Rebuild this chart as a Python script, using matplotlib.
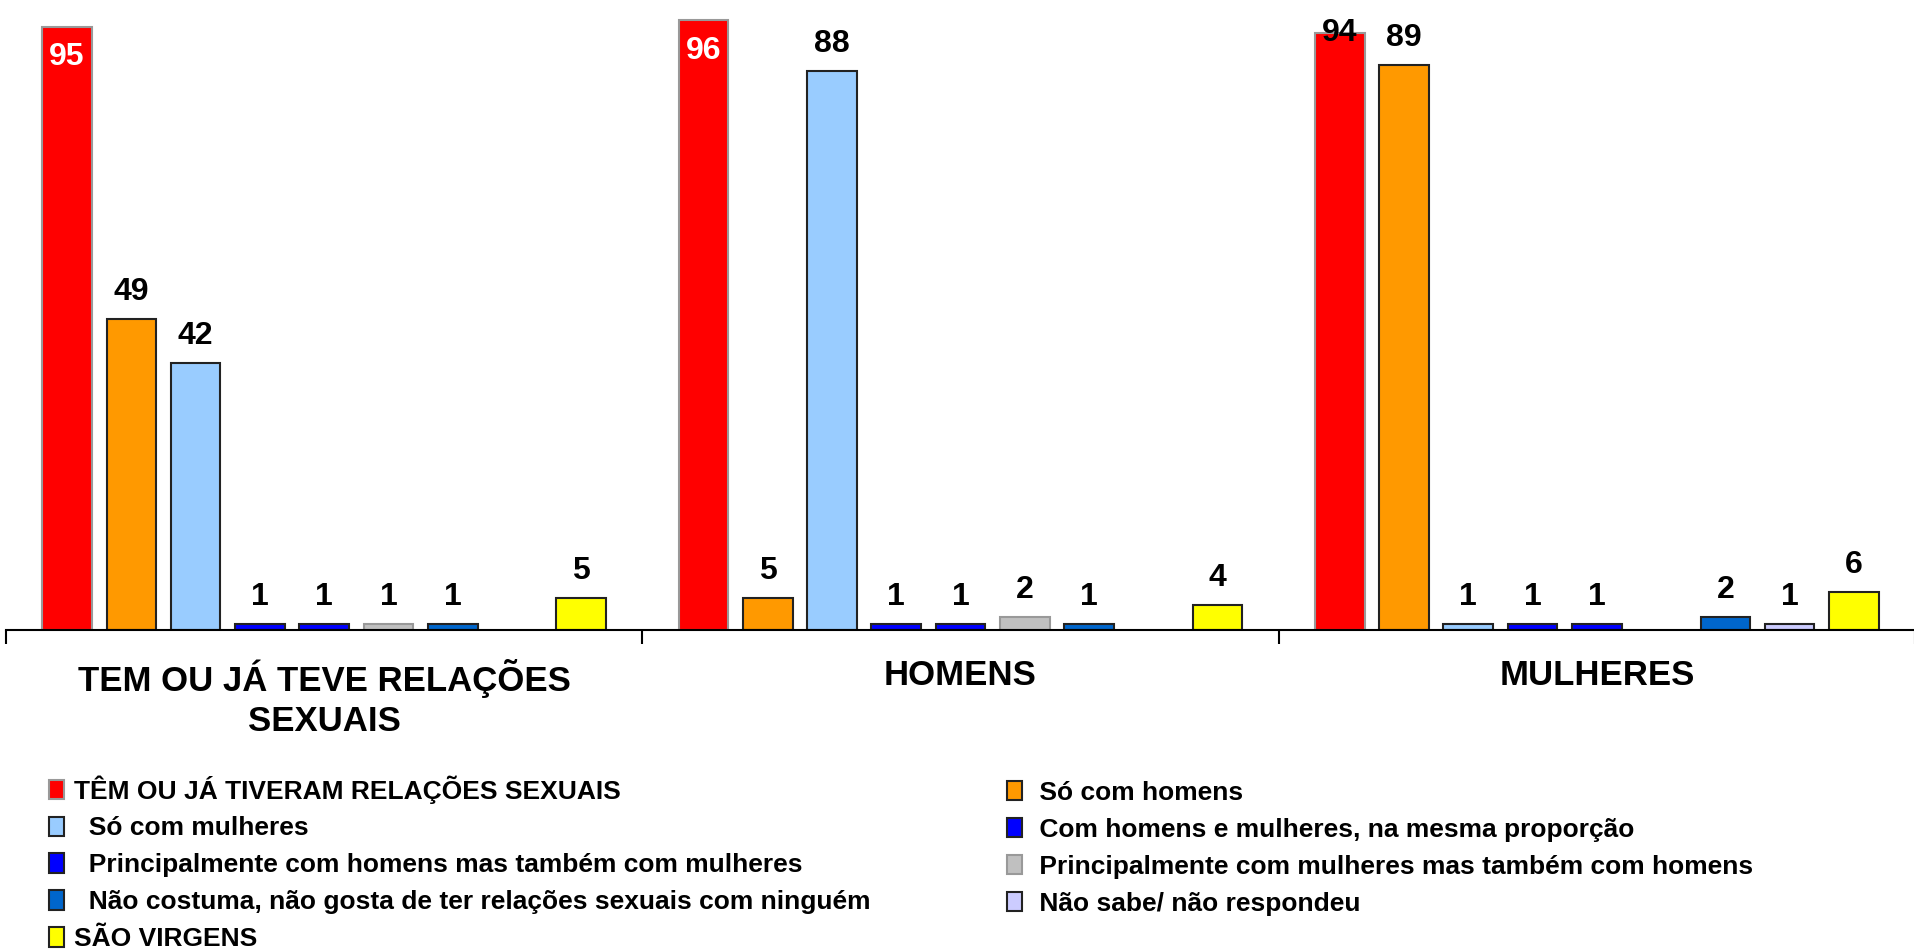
import matplotlib.pyplot as plt
import numpy as np

plt.rcParams['font.family'] = ['Liberation Sans', 'DejaVu Sans']
plt.rcParams['font.weight'] = 'bold'

groups = ["TEM OU JÁ TEVE RELAÇÕES\nSEXUAIS", "HOMENS", "MULHERES"]

series = ["TÊM OU JÁ TIVERAM RELAÇÕES SEXUAIS",
          "Só com homens",
          "Só com mulheres",
          "Com homens e mulheres, na mesma proporção",
          "Principalmente com homens mas também com mulheres",
          "Principalmente com mulheres mas também com homens",
          "Não costuma, não gosta de ter relações sexuais com ninguém",
          "Não sabe/ não respondeu",
          "SÃO VIRGENS"]

tem_relacoes = [95, 96, 94]
so_homens = [49, 5, 89]
so_mulheres = [42, 88, 1]
mesma_proporcao = [1, 1, 1]
princ_homens = [1, 1, 1]
princ_mulheres = [1, 2, np.nan]
nao_costuma = [1, 1, 2]
nao_sabe = [np.nan, np.nan, 1]
virgens = [5, 4, 6]

data = [tem_relacoes, so_homens, so_mulheres, mesma_proporcao, princ_homens,
        princ_mulheres, nao_costuma, nao_sabe, virgens]

colors = ['#FF0000', '#FF9900', '#99CCFF', '#0000FF', '#0000FF',
          '#C0C0C0', '#0066CC', '#CCCCFF', '#FFFF00']
edges = ['#999999', '#222222', '#222222', '#222222', '#222222',
         '#999999', '#222222', '#222222', '#222222']

# spaces in front of the legend text, as in the original
lead = ["", " ", "  ", " ", "  ", " ", "  ", " ", ""]

fig = plt.figure(figsize=(19.15, 9.49), dpi=100)
ax = fig.add_axes([6 / 1915, 1 - 630 / 949, 1 - 6 / 1915, 630 / 949])

x = np.arange(len(groups))
slot = 0.101
width = 0.078
handles = []
for i, vals in enumerate(data):
    vals = np.array(vals, dtype=float)
    pos = x + (i - 4) * slot
    ok = ~np.isnan(vals)
    b = ax.bar(pos[ok], vals[ok], width, color=colors[i], edgecolor=edges[i],
               linewidth=1.5, label=lead[i] + series[i])
    handles.append(b)
    for p, v, g in zip(pos[ok], vals[ok], x[ok]):
        if i == 0 and g < 2:
            ax.text(p, v - 2.4, f"{v:.0f}", ha='center', va='top',
                    color='white', fontsize=23, fontweight='bold')
        elif i == 0:
            ax.text(p, v - 1.2, f"{v:.0f}", ha='center', va='baseline',
                    color='black', fontsize=23, fontweight='bold')
        else:
            ax.text(p, v + 3.0, f"{v:.0f}", ha='center', va='baseline',
                    color='black', fontsize=23, fontweight='bold')

ax.set_xlim(-0.5, 2.5)
ax.set_ylim(0, 99.2)
for s in ['left', 'right', 'top']:
    ax.spines[s].set_visible(False)
ax.spines['bottom'].set_linewidth(1.5)
ax.set_yticks([])
ax.set_xticks([-0.5, 0.5, 1.5, 2.5])
ax.set_xticklabels([])
ax.tick_params(axis='x', which='major', direction='out', length=10, width=1.5)
ax.set_xticks(x, minor=True)
ax.set_xticklabels(groups, minor=True, fontsize=25, fontweight='bold',
                   linespacing=1.25)
ax.tick_params(axis='x', which='minor', length=0, pad=21)

# two legend columns, read row by row
col1 = [handles[k] for k in (0, 2, 4, 6, 8)]
col2 = [handles[k] for k in (1, 3, 5, 7)]
opts = dict(loc='upper left', frameon=False, borderpad=0,
            borderaxespad=0, handlelength=0.55, handleheight=0.75,
            handletextpad=0.4, labelspacing=0.49,
            prop={'weight': 'bold', 'size': 19})
leg1 = fig.legend(handles=col1, labels=[h.get_label() for h in col1],
                  bbox_to_anchor=(49 / 1915, 1 - 775 / 949), **opts)
leg2 = fig.legend(handles=col2, labels=[h.get_label() for h in col2],
                  bbox_to_anchor=(1007 / 1915, 1 - 781 / 949), **opts)

fig.savefig("out.png", dpi=100)
